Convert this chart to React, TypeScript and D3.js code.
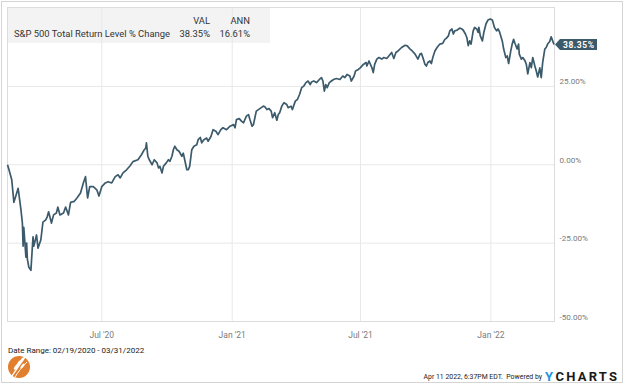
import * as React from 'react'
import * as d3 from 'd3'

// S&P 500 total return level, % change since 02/19/2020
const dates = [
  '2020-02-19', '2020-02-21', '2020-02-25', '2020-02-28', '2020-03-03', '2020-03-05', '2020-03-09', '2020-03-11',
  '2020-03-12', '2020-03-13', '2020-03-16', '2020-03-17', '2020-03-18', '2020-03-20', '2020-03-23', '2020-03-26',
  '2020-03-27', '2020-03-31', '2020-04-02', '2020-04-06', '2020-04-09', '2020-04-13', '2020-04-15', '2020-04-17',
  '2020-04-21', '2020-04-24', '2020-04-28', '2020-04-30', '2020-05-03', '2020-05-08', '2020-05-11', '2020-05-15',
  '2020-05-18', '2020-05-23', '2020-05-27', '2020-06-01', '2020-06-05', '2020-06-08', '2020-06-11', '2020-06-14',
  '2020-06-19', '2020-06-24', '2020-06-27', '2020-07-01', '2020-07-06', '2020-07-10', '2020-07-15', '2020-07-20',
  '2020-07-24', '2020-07-27', '2020-07-31', '2020-08-05', '2020-08-10', '2020-08-14', '2020-08-21', '2020-08-26',
  '2020-08-30', '2020-09-01', '2020-09-02', '2020-09-04', '2020-09-06', '2020-09-10', '2020-09-13', '2020-09-17',
  '2020-09-19', '2020-09-21', '2020-09-24', '2020-09-26', '2020-09-30', '2020-10-03', '2020-10-05', '2020-10-08',
  '2020-10-10', '2020-10-12', '2020-10-15', '2020-10-18', '2020-10-22', '2020-10-24', '2020-10-26', '2020-10-29',
  '2020-10-31', '2020-11-02', '2020-11-05', '2020-11-08', '2020-11-12', '2020-11-14', '2020-11-17', '2020-11-19',
  '2020-11-22', '2020-11-26', '2020-11-28', '2020-12-02', '2020-12-05', '2020-12-09', '2020-12-12', '2020-12-16',
  '2020-12-19', '2020-12-24', '2020-12-29',
  '2021-01-03', '2021-01-05', '2021-01-07', '2021-01-11', '2021-01-14', '2021-01-17', '2021-01-21', '2021-01-24',
  '2021-01-26', '2021-01-29', '2021-01-31', '2021-02-02', '2021-02-04', '2021-02-09', '2021-02-14', '2021-02-16',
  '2021-02-19', '2021-02-22', '2021-02-25', '2021-02-27', '2021-03-02', '2021-03-05', '2021-03-07', '2021-03-09',
  '2021-03-12', '2021-03-15', '2021-03-19', '2021-03-21', '2021-03-25', '2021-03-27', '2021-03-31', '2021-04-03',
  '2021-04-06', '2021-04-09', '2021-04-12', '2021-04-15', '2021-04-18', '2021-04-21', '2021-04-23', '2021-04-26',
  '2021-04-30', '2021-05-04', '2021-05-07', '2021-05-09', '2021-05-11', '2021-05-13', '2021-05-15', '2021-05-18',
  '2021-05-21', '2021-05-24', '2021-05-28', '2021-06-02', '2021-06-06', '2021-06-09', '2021-06-12', '2021-06-16',
  '2021-06-18', '2021-06-22', '2021-06-24', '2021-06-28', '2021-07-01', '2021-07-05', '2021-07-09', '2021-07-10',
  '2021-07-13', '2021-07-17', '2021-07-19', '2021-07-21', '2021-07-24', '2021-07-27', '2021-07-31', '2021-08-03',
  '2021-08-07', '2021-08-10', '2021-08-14', '2021-08-17', '2021-08-20', '2021-08-23', '2021-08-28', '2021-09-02',
  '2021-09-05', '2021-09-09', '2021-09-12', '2021-09-16', '2021-09-20', '2021-09-23', '2021-09-25', '2021-09-27',
  '2021-09-30', '2021-10-02', '2021-10-04', '2021-10-07', '2021-10-09', '2021-10-11', '2021-10-14', '2021-10-17',
  '2021-10-21', '2021-10-25', '2021-10-28', '2021-10-30', '2021-11-02', '2021-11-04', '2021-11-07', '2021-11-09',
  '2021-11-11', '2021-11-14', '2021-11-18', '2021-11-21', '2021-11-23', '2021-11-26', '2021-11-28', '2021-11-30',
  '2021-12-02', '2021-12-04', '2021-12-07', '2021-12-09', '2021-12-12', '2021-12-14', '2021-12-15', '2021-12-17',
  '2021-12-20', '2021-12-22', '2021-12-25', '2021-12-28', '2021-12-31',
  '2022-01-03', '2022-01-06', '2022-01-09', '2022-01-11', '2022-01-13', '2022-01-17', '2022-01-19', '2022-01-22',
  '2022-01-24', '2022-01-26', '2022-01-29', '2022-01-31', '2022-02-02', '2022-02-04', '2022-02-07', '2022-02-09',
  '2022-02-10', '2022-02-13', '2022-02-15', '2022-02-18', '2022-02-20', '2022-02-22', '2022-02-25', '2022-02-27',
  '2022-03-01', '2022-03-04', '2022-03-06', '2022-03-08', '2022-03-11', '2022-03-13', '2022-03-15', '2022-03-18',
  '2022-03-20', '2022-03-22', '2022-03-25', '2022-03-27', '2022-03-29', '2022-03-31',
]

const pctChange = [
  0, -1.5, -4.8, -12, -9, -7.5, -14.4, -18.6,
  -26, -20, -29.5, -25, -30, -32.6, -33.7, -23,
  -26, -22.4, -26.6, -24, -18.3, -17.6, -16.6, -15,
  -18.6, -16, -15.4, -13.5, -16, -15.4, -13.5, -16,
  -12, -11.7, -10.6, -9, -5.8, -3.8, -10.6, -7,
  -7, -8, -10, -7, -5.8, -5.4, -5.8, -3.8,
  -3.2, -4.2, -2.6, -1.6, -0.3, 1, 1.6, 3.2,
  4.8, 5.3, 7, 2.7, 1.6, 0, 1.6, 0.6,
  -1, -0.5, -2.6, -0.5, 0.6, 1.6, 1.1, 2.7,
  4.8, 5.9, 4.8, 4.3, 2.7, 3.7, 1.6, -1.6,
  -1.6, -0.5, 4.8, 5.9, 6.4, 8, 8.7, 7,
  8, 8.5, 7.5, 9, 11.2, 10.7, 9.6, 11.2,
  11.8, 11.2, 12.3,
  12.8, 11.8, 14.4, 14.7, 13.9, 13.4, 15.5, 16,
  14.4, 12.3, 12.8, 15, 17.1, 17.9, 18.7, 18.5,
  17.6, 17.9, 17.1, 15, 16.6, 14.2, 16, 16.6,
  18.7, 19.8, 19.2, 18.2, 18.7, 17.6, 20.3, 20.8,
  22.4, 24.6, 25.1, 26.2, 26.7, 25.6, 26.4, 26.7,
  26.2, 27.2, 27.8, 26.7, 23.5, 25.6, 24.6, 26.2,
  26.7, 27.2, 27.5, 27.2, 28.3, 27.8, 28.8, 28.3,
  26.7, 28.3, 29.9, 30.4, 31, 32, 32.6, 31.5,
  33.1, 31, 29.4, 32, 33.7, 34.2, 33.7, 34.2,
  33.9, 34.7, 35.8, 33.9, 35.8, 36.3, 37.4, 38.1,
  37.9, 36.9, 36.3, 35.3, 33.7, 35.3, 35.5, 34.2,
  32, 31.5, 32.6, 33.1, 32.3, 34.2, 36.3, 37.4,
  38.5, 38.7, 40, 40.3, 41.1, 42.7, 43.3, 41.7,
  42.7, 42.9, 43.6, 43.3, 42.9, 41.7, 40.6, 38,
  39.5, 38.5, 42.7, 43.8, 43.3, 42.2, 43.8, 41.1,
  39.5, 42.2, 44.9, 46.2, 46.5,
  46.2, 43.8, 42.7, 43.3, 42.5, 39.5, 36.9, 34.2,
  34.7, 32.3, 36.3, 38.5, 40, 38.7, 36.9, 38.5,
  35.3, 33.7, 34.2, 33.2, 32, 29, 32.6, 31,
  34.2, 31.5, 29.9, 28, 30.9, 27.8, 32.6, 36.9,
  37.4, 38.5, 39.3, 40.8, 39.6, 38.35,
]

const xTickDates = ['2020-07-01', '2021-01-01', '2021-07-01', '2022-01-01']
const xTickLabels = ["Jul '20", "Jan '21", "Jul '21", "Jan '22"]
const yTicks = [25, 0, -25, -50]
const yTickLabels = ['25.00%', '0.00%', '-25.00%', '-50.00%']

const seriesName = 'S&P 500 Total Return Level % Change'
const lastValue = '38.35%'
const annValue = '16.61%'
const dateRange = 'Date Range: 02/19/2020 - 03/31/2022'
const stamp = 'Apr 11 2022, 6:37PM EDT.  Powered by'

const parse = d3.timeParse('%Y-%m-%d')
const font = 'Roboto, "Noto Sans", sans-serif'
const lineColor = '#3b5a6b'

export default function App() {
  const points = dates.map((d, i) => ({date: parse(d) as Date, value: pctChange[i]}))

  const x = d3.scaleTime()
    .domain([parse('2020-02-19') as Date, parse('2022-03-31') as Date])
    .range([7.5, 554])
  const y = d3.scaleLinear().domain([-50, 50]).range([321.5, 8])

  const line = d3.line<{date: Date, value: number}>()
    .x(d => x(d.date))
    .y(d => y(d.value))

  const last = points[points.length - 1]
  const ty = y(last.value)

  return (
    <div style={{position: 'fixed', left: 0, top: 0}}>
      <svg width={624} height={385} style={{display: 'block', fontFamily: font}}>
        <rect x={0} y={0} width={624} height={385} fill="#fff" />
        <rect x={1.5} y={1.5} width={621} height={381} fill="none" stroke="#d4d4d4" />

        {/* legend background */}
        <rect x={8} y={8} width={262} height={35} fill="#f3f3f3" />

        {/* grid */}
        {xTickDates.map(d => (
          <line key={d} x1={x(parse(d) as Date)} x2={x(parse(d) as Date)} y1={8} y2={321}
            stroke="#e8e8e8" />
        ))}
        {yTicks.filter(v => v > -50).map(v => (
          <line key={v} x1={8} x2={554} y1={y(v)} y2={y(v)} stroke="#e8e8e8" />
        ))}
        <rect x={7.5} y={7.5} width={547} height={314} fill="none" stroke="#dcdcdc" />

        {/* legend text */}
        <g fill="#333" fontSize={9.4}>
          <text x={210} y={23.5} textAnchor="end">VAL</text>
          <text x={250} y={23.5} textAnchor="end">ANN</text>
          <text x={14} y={36.5} textLength={156} lengthAdjust="spacingAndGlyphs">{seriesName}</text>
          <text x={210} y={36.5} textAnchor="end">{lastValue}</text>
          <text x={250} y={36.5} textAnchor="end">{annValue}</text>
        </g>

        {/* series */}
        <path d={line(points) ?? ''} fill="none" stroke={lineColor} strokeWidth={1.7}
          strokeLinejoin="round" />

        {/* last value tag */}
        <path d={`M555,${ty} L560,${ty - 5.5} L597,${ty - 5.5} L597,${ty + 5.5} L560,${ty + 5.5} Z`}
          fill={lineColor} />
        <text x={578.5} y={ty + 3} textAnchor="middle" fill="#fff" fontSize={8.5} fontWeight="bold"
          textLength={31} lengthAdjust="spacing">{lastValue}</text>

        {/* y axis labels */}
        <g fill="#7a7a7a" fontSize={8.1}>
          {yTicks.map((v, i) => (
            <text key={v} x={559.5} y={y(v) - 2}>{yTickLabels[i]}</text>
          ))}
        </g>

        {/* x axis labels */}
        <g fill="#7a7a7a" fontSize={8.5} textAnchor="middle">
          {xTickDates.map((d, i) => (
            <text key={d} x={x(parse(d) as Date)} y={337.5}>{xTickLabels[i]}</text>
          ))}
        </g>

        {/* footer */}
        <text x={8} y={353} fill="#222" fontSize={8}>{dateRange}</text>
        <g>
          <circle cx={19} cy={367} r={11} fill="#e27f2f" />
          <path d="M12,376 C16,370 20,364 25,357" stroke="#fff" strokeWidth={1.3} fill="none" />
          <path d="M15,377 C18,372 22,367 27,362" stroke="#fff" strokeWidth={1} fill="none" />
          <ellipse cx={19} cy={363} rx={1.3} ry={3.2} fill="#fff" transform="rotate(35 19 363)" />
          <ellipse cx={22} cy={360} rx={1.3} ry={3.2} fill="#fff" transform="rotate(35 22 360)" />
          <ellipse cx={16} cy={367} rx={1.3} ry={3.2} fill="#fff" transform="rotate(35 16 367)" />
          <ellipse cx={22.5} cy={366} rx={1.2} ry={3} fill="#fff" transform="rotate(40 22.5 366)" />
        </g>
        <text x={542} y={379} fill="#222" fontSize={6.9} textAnchor="end" style={{whiteSpace: 'pre'}}>
          {stamp}
        </text>
        <text x={545} y={380.5} fontSize={13} fontWeight="bold" fill="#1d95e0">Y</text>
        <text x={555.5} y={380.5} fontSize={13} fontWeight="bold" fill="#1a1a1a"
          textLength={61.5} lengthAdjust="spacing">CHARTS</text>
      </svg>
    </div>
  )
}
